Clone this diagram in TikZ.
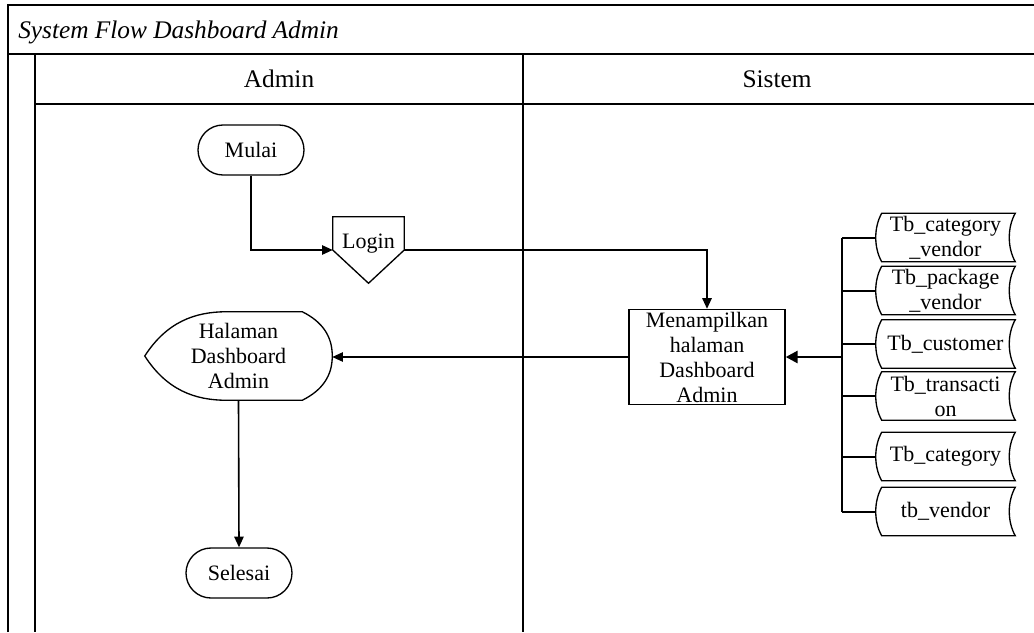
\documentclass[tikz,border=0pt]{standalone}
\usepackage{fontspec}
\setmainfont{Liberation Serif}
\usetikzlibrary{arrows.meta,calc}
\newcommand{\dgbody}{\fontsize{16.5pt}{18.75pt}\selectfont}
\newcommand{\dghead}{\fontsize{19pt}{22pt}\selectfont}
\begin{document}
\begin{tikzpicture}[x=0.75pt,y=-0.75pt,
  frame/.style={line width=1.2pt},
  lane/.style={line width=1pt},
  shp/.style={line width=1pt},
  conn/.style={line width=1.2pt,-{Triangle[length=8pt,width=7pt]}},
  bus/.style={line width=1.5pt},
  term/.style={draw, line width=1pt, rounded corners=18.75pt, minimum width=79.5pt, minimum height=37.5pt, inner sep=0pt, font=\dgbody},
  box/.style={minimum width=#1, inner sep=0pt, align=center, font=\dgbody},
  db/.style={minimum width=104.25pt, minimum height=36pt, inner sep=0pt, align=center, font=\dgbody}
]
\useasboundingbox (0,0) rectangle (1034,632);
% frame
\draw[frame] (8,632) -- (8,5) -- (1034,5);
\draw[frame] (8,54) -- (1034,54);
\draw[lane] (35,54) -- (35,632);
\draw[frame] (35,104) -- (1034,104);
\draw[lane] (523,54) -- (523,632);
\node[font=\dghead\itshape, anchor=base west, inner sep=0pt] (title) at (18,38) {System Flow Dashboard Admin};
\node[font=\dghead, anchor=base, inner sep=0pt] (hadmin) at (279,87) {Admin};
\node[font=\dghead, anchor=base, inner sep=0pt] (hsistem) at (777,87) {Sistem};
% terminators
\node[term] (mulai) at (251,150) {Mulai};
\node[term] (selesai) at (239,573) {Selesai};
% login off-page connector
\node[minimum width=53.25pt, minimum height=49.5pt, inner sep=0pt] (login) at (368.5,250) {};
\draw[shp] (login.west) -- (login.north west) -- (login.north east) -- (login.east) -- (login.south) -- cycle;
\node[font=\dgbody, anchor=base, inner sep=0pt] (logintext) at (368.5,248) {Login};
% display
\node[box=140.25pt, minimum height=66pt] (halaman) at (238.5,356) {Halaman\\Dashboard\\Admin};
\draw[shp] (halaman.west) .. controls ($(halaman.west)+(22,-34)$) and ($(halaman.north west)+(50,0)$) .. ($(halaman.north west)+(82,0)$)
  -- ($(halaman.north east)+(-30,0)$) .. controls ($(halaman.north east)+(-10,10)$) and ($(halaman.east)+(0,-20)$) .. (halaman.east)
  .. controls ($(halaman.east)+(0,20)$) and ($(halaman.south east)+(-10,-10)$) .. ($(halaman.south east)+(-30,0)$)
  -- ($(halaman.south west)+(82,0)$) .. controls ($(halaman.south west)+(50,0)$) and ($(halaman.west)+(22,34)$) .. cycle;
% process
\node[box=117pt, minimum height=71.25pt, draw, line width=1pt] (proses) at (707,357) {Menampilkan\\halaman\\Dashboard\\Admin};
% databases
\node[db] (db1) at (945.5,237.5) {Tb\_category\\\_vendor};
\node[db] (db2) at (945.5,290.5) {Tb\_package\\\_vendor};
\node[db] (db3) at (945.5,344) {Tb\_customer};
\node[db] (db4) at (945.5,396) {Tb\_transacti\\on};
\node[db] (db5) at (945.5,456.5) {Tb\_category};
\node[db] (db6) at (945.5,511.5) {tb\_vendor};
\foreach \n in {db1,db2,db3,db4,db5,db6}{
  \draw[shp] ($(\n.north west)+(6,0)$) -- (\n.north east)
    .. controls ($(\n.north east)+(-8,14)$) and ($(\n.south east)+(-8,-14)$) .. (\n.south east)
    -- ($(\n.south west)+(6,0)$)
    .. controls ($(\n.south west)+(-2,-14)$) and ($(\n.north west)+(-2,14)$) .. cycle;
}
\coordinate (bus) at (842,357);
\draw[bus] (db1.west -| bus) -- (db6.west -| bus);
\foreach \n in {db1,db2,db3,db4,db5,db6}{
  \draw[bus] (\n.west -| bus) -- (\n.west);
}
% connectors
\draw[conn] (mulai.south) |- (login.west);
\draw[conn] (login.east) -| (proses.north);
\draw[conn] (proses.west) -- (halaman.east |- proses.west);
\draw[conn] (halaman.south) -- (selesai.north);
\draw[line width=2pt,-{Triangle[length=9pt,width=9pt]}] (bus) -- (proses.east);
\end{tikzpicture}
\end{document}
